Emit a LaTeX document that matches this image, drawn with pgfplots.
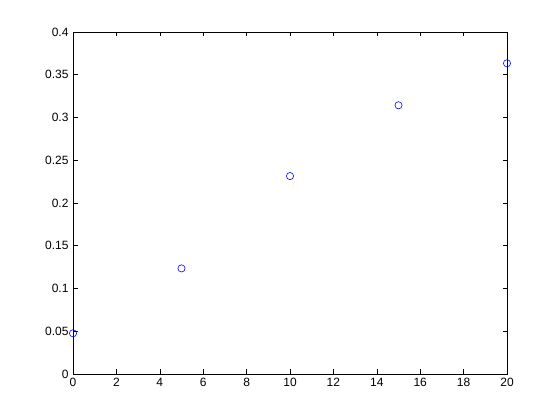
\documentclass[border=0pt]{standalone}
\usepackage{pgfplots}
\pgfplotsset{compat=1.18}
\usepackage{fontspec}
\setmainfont{Liberation Sans}
\begin{document}
\begin{tikzpicture}[x=1pt,y=1pt]
\begin{axis}[
    at={(73pt,46pt)},
    anchor=south west,
    scale only axis,
    width=434pt, height=342pt,
    xmin=0, xmax=20, ymin=0, ymax=0.4,
    xtick={0,2,...,20},
    ytick={0,0.05,...,0.4},
    yticklabel style={/pgf/number format/fixed, /pgf/number format/precision=2},
    /pgf/number format/assume math mode=true,
    tick align=inside,
    major tick length=4.5pt,
    tick style={black, line width=0.6pt},
    axis line style={black, line width=0.6pt},
    ticklabel style={font=\fontsize{12}{14}\selectfont},
    xticklabel style={yshift=-1pt},
    yticklabel style={xshift=-1pt},
    clip=false,
]
\addplot[only marks, mark=o, blue, mark size=3.6pt, line width=0.6pt] coordinates {
    (0,0.0476) (5,0.1235) (10,0.2315) (15,0.3143) (20,0.3634)
};
\end{axis}
\path (0,0) rectangle (560,420);
\end{tikzpicture}
\end{document}
